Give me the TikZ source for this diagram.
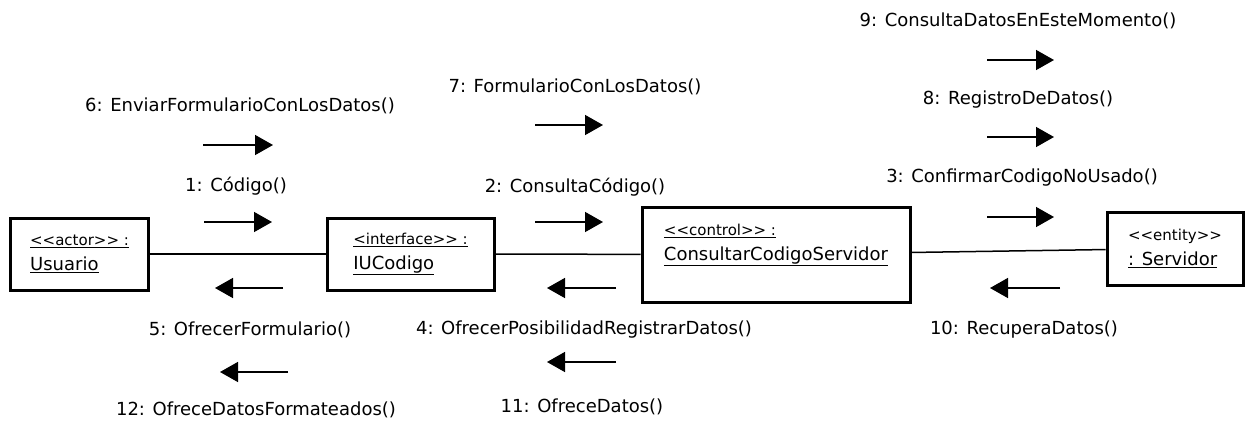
\documentclass[tikz,border=0pt]{standalone}
\usepackage{fontspec}
\newfontfamily\umlfont{DejaVu Sans}
\usetikzlibrary{arrows.meta}
\newcommand\stereotype[1]{{\fontsize{15bp}{25bp}\selectfont #1}}

\begin{document}
\begin{tikzpicture}[
  x=1bp, y=-1bp,
  font=\umlfont\fontsize{18bp}{25bp}\selectfont,
  obj/.style={draw, line width=3bp, align=left, inner sep=0pt},
  link/.style={line width=1.5bp},
  msg/.style={-{Triangle[length=18bp,width=20bp]}, line width=1.5bp},
  lbl/.style={inner sep=0pt},
]
\useasboundingbox (0,0) rectangle (1249,427);

\node[obj, minimum width=137bp, minimum height=72bp] (usuario) at (79.5,254)
  {\underline{\stereotype{<<actor>> :}}\\ \underline{Usuario}};
\node[obj, minimum width=167bp, minimum height=72bp] (iucodigo) at (410.5,254)
  {\underline{\stereotype{<interface>> :}}\\ \underline{IUCodigo}};
\node[obj, minimum width=268bp, minimum height=95bp] (control) at (776,254.5)
  {\underline{\stereotype{<<control>> :}}\\ \underline{ConsultarCodigoServidor}\\ \mbox{}};
\node[obj, minimum width=136bp, minimum height=73bp] (servidor) at (1175,248.5)
  {\stereotype{<<entity>>}\\ \underline{: Servidor}};

\draw[link] (usuario) -- (iucodigo);
\draw[link] (iucodigo) -- (control);
\draw[link] (control) -- (servidor);

\node[lbl] (l1) at (236,186) {1: Código()};
\node[lbl] (l6) at (240,106) {6: EnviarFormularioConLosDatos()};
\node[lbl] (l2) at (575,187) {2: ConsultaCódigo()};
\node[lbl] (l7) at (575,87) {7: FormularioConLosDatos()};
\node[lbl] (l3) at (1022,178) {3: ConfirmarCodigoNoUsado()};
\node[lbl] (l8) at (1018,100) {8: RegistroDeDatos()};
\node[lbl] (l9) at (1018,21) {9: ConsultaDatosEnEsteMomento()};
\node[lbl] (l5) at (250,330) {5: OfrecerFormulario()};
\node[lbl] (l12) at (256,410) {12: OfreceDatosFormateados()};
\node[lbl] (l4) at (584,330) {4: OfrecerPosibilidadRegistrarDatos()};
\node[lbl] (l11) at (582,407) {11: OfreceDatos()};
\node[lbl] (l10) at (1024,330) {10: RecuperaDatos()};

\coordinate (m1s) at (204,222);  \coordinate (m1e) at (272,222);
\coordinate (m6s) at (203,145);  \coordinate (m6e) at (273,145);
\coordinate (m2s) at (535,222);  \coordinate (m2e) at (603,222);
\coordinate (m7s) at (535,125);  \coordinate (m7e) at (603,125);
\coordinate (m3s) at (987,217);  \coordinate (m3e) at (1054,217);
\coordinate (m8s) at (987,137);  \coordinate (m8e) at (1054,137);
\coordinate (m9s) at (987,60);   \coordinate (m9e) at (1054,60);
\coordinate (m5s) at (283,288);  \coordinate (m5e) at (215,288);
\coordinate (m12s) at (288,372); \coordinate (m12e) at (220,372);
\coordinate (m4s) at (616,288);  \coordinate (m4e) at (547,288);
\coordinate (m11s) at (616,362); \coordinate (m11e) at (547,362);
\coordinate (m10s) at (1060,288); \coordinate (m10e) at (990,288);

\draw[msg] (m1s) -- (m1e);
\draw[msg] (m6s) -- (m6e);
\draw[msg] (m2s) -- (m2e);
\draw[msg] (m7s) -- (m7e);
\draw[msg] (m3s) -- (m3e);
\draw[msg] (m8s) -- (m8e);
\draw[msg] (m9s) -- (m9e);
\draw[msg] (m5s) -- (m5e);
\draw[msg] (m12s) -- (m12e);
\draw[msg] (m4s) -- (m4e);
\draw[msg] (m11s) -- (m11e);
\draw[msg] (m10s) -- (m10e);
\end{tikzpicture}
\end{document}
